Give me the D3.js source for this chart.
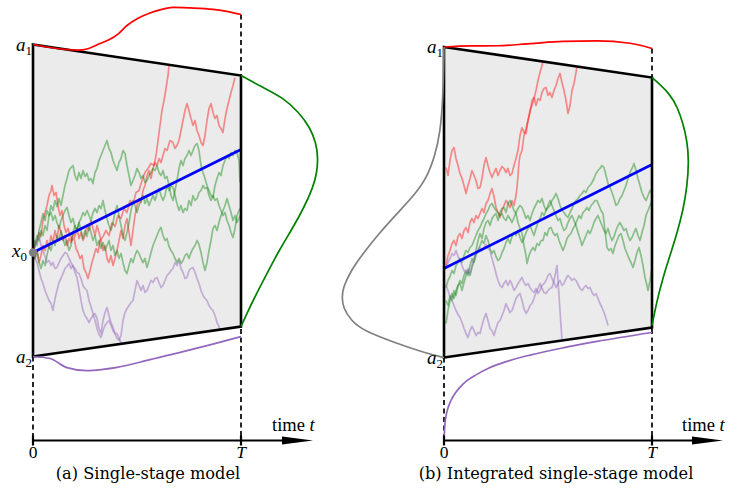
<!DOCTYPE html>
<html><head><meta charset="utf-8">
<script src="https://cdn.jsdelivr.net/npm/d3@7"></script>
<style>body{margin:0;background:#fff} svg{display:block}</style>
</head><body>
<script>
// ---------- DATA (time in steps, T = 208; level = height above time axis) ----------
const T = 208;
const timeTicks = ["0", "T"];
const captions = ["(a) Single-stage model", "(b) Integrated single-stage model"];

const upperA = [396, 365], lowerA = [84, 114], driftA = [188, 291], x0A = 188;
const upperB = [393.5, 363], lowerB = [83, 113], driftB = [172, 276];

// panel (a) sample paths [step, level]
const redA1 = [[0,188],[2,195],[4,200],[6,208],[8,204],[10,220],[12,228],[14,235],[16,245],[18,250],[19,255],[21,245],[23,248],[25,235],[27,225],[29,230],[31,215],[33,208],[35,212],[37,205],[39,200],[41,203],[43,192],[45,188],[47,182],[49,185],[51,172],[53,168],[55,162],[57,170],[59,178],[61,185],[63,192],[65,188],[67,200],[70,204],[73,210],[76,205],[79,218],[82,214],[85,225],[88,222],[91,232],[94,228],[97,240],[100,236],[103,248],[106,250],[109,260],[112,268],[115,272],[118,277],[121,275],[123,285],[125,300],[127,315],[129,330],[131,340],[133,352],[135,365],[136,375]];
const redA2 = [[0,188],[2,182],[4,190],[6,178],[8,185],[10,195],[12,190],[14,200],[16,192],[18,205],[20,198],[22,210],[24,202],[26,215],[28,208],[30,200],[32,205],[34,195],[36,202],[38,198],[40,208],[42,204],[44,212],[46,202],[48,208],[50,200],[52,205],[54,215],[56,210],[58,220],[60,212],[62,205],[64,215],[66,208],[68,200],[70,190],[72,195],[74,182],[76,178],[78,185],[80,175],[82,182],[84,190],[86,200],[88,210],[90,202],[92,215],[94,222],[96,208],[98,195],[100,210],[102,225],[104,235],[106,242],[108,238],[110,250],[112,255],[114,265],[116,270],[118,262],[120,272],[122,278],[124,275],[126,282],[128,278],[130,285],[132,292],[134,290],[137,300],[140,298],[142,292],[144,295],[146,300],[148,310],[150,320],[152,330],[154,337],[156,330],[158,322],[160,315],[162,320],[164,310],[166,305],[168,298],[170,295],[172,305],[174,320],[176,332],[178,337],[180,328],[182,322],[184,325],[186,315],[188,312],[190,308],[192,322],[194,332],[196,340],[198,348],[200,355],[202,363]];
const greenA1 = [[0,188],[2,200],[4,195],[6,210],[8,218],[10,227],[12,220],[14,230],[16,225],[18,235],[20,230],[22,240],[24,234],[26,242],[28,235],[30,245],[32,255],[34,262],[36,270],[38,273],[40,275],[42,265],[44,260],[46,268],[48,262],[50,270],[52,264],[54,267],[56,260],[58,262],[60,257],[62,268],[64,272],[66,280],[68,285],[70,290],[72,295],[74,300],[76,292],[78,288],[80,280],[82,275],[84,270],[86,278],[88,282],[90,290],[92,287],[94,275],[96,265],[98,255],[100,260],[102,265],[104,272],[106,268],[108,262],[110,265],[112,258],[114,260],[116,265],[118,268],[120,272],[122,270],[124,275],[126,268],[128,265],[130,270],[132,262],[134,264],[136,255],[138,245],[140,240],[142,250],[144,260],[146,272],[148,280],[150,275],[152,282],[154,285],[156,290],[158,285],[160,290],[162,295],[164,297],[166,290],[168,275],[170,268],[172,262],[174,255],[176,250],[178,245],[180,243],[182,255],[184,262],[186,268],[188,265],[190,275],[192,280],[194,285],[196,282],[198,288],[200,285],[202,290],[204,288],[206,280],[207,258]];
const greenA2 = [[0,188],[2,195],[4,205],[6,200],[8,210],[10,205],[12,215],[14,210],[16,225],[18,228],[20,220],[22,225],[24,218],[26,212],[28,220],[30,225],[32,230],[34,233],[36,225],[38,218],[40,222],[42,214],[44,210],[46,218],[48,222],[50,228],[52,225],[54,230],[56,225],[58,220],[60,228],[62,232],[64,228],[66,235],[68,232],[70,240],[72,230],[74,222],[76,215],[78,210],[80,218],[82,228],[84,235],[86,225],[88,215],[90,205],[92,200],[94,208],[96,218],[98,230],[100,240],[102,235],[104,228],[106,235],[108,240],[110,245],[112,237],[114,242],[116,235],[118,240],[120,245],[122,240],[124,247],[126,252],[128,245],[130,240],[132,245],[134,255],[136,250],[138,255],[140,253],[142,245],[144,237],[146,230],[148,235],[150,228],[152,232],[154,230],[156,240],[158,235],[160,245],[162,240],[164,242],[166,248],[168,250],[170,255],[172,252],[174,253],[176,245],[178,240],[180,245],[182,240],[184,242],[186,235],[188,230],[190,225],[192,228],[194,220],[196,215],[198,208],[200,203],[202,212],[204,225],[206,230],[208,233]];
const greenA3 = [[0,188],[2,182],[4,190],[6,178],[8,172],[10,180],[12,175],[14,185],[16,195],[18,190],[20,200],[22,195],[24,205],[26,200],[28,210],[30,202],[32,195],[34,200],[36,190],[38,195],[40,208],[42,215],[44,210],[46,218],[48,210],[50,202],[52,210],[54,204],[56,215],[58,208],[60,200],[62,205],[64,195],[66,200],[68,192],[70,198],[72,190],[74,195],[76,200],[78,190],[80,195],[82,185],[84,190],[86,182],[88,187],[90,178],[92,170],[94,167],[96,175],[98,182],[100,178],[102,185],[104,190],[106,187],[108,182],[110,178],[112,182],[114,173],[116,180],[118,188],[120,195],[122,200],[124,205],[126,210],[128,213],[130,205],[132,200],[134,202],[136,194],[138,190],[140,187],[142,182],[144,178],[146,182],[148,177],[150,180],[152,185],[154,187],[156,182],[158,188],[160,192],[162,195],[164,200],[166,196],[168,188],[170,178],[172,170],[174,178],[176,190],[178,200],[180,212],[182,215],[184,210],[186,218],[188,225],[190,230],[192,235],[194,242],[196,235],[198,228],[200,220],[202,225],[204,218],[206,222],[208,227]];
const purpleA1 = [[0,188],[2,182],[4,178],[6,170],[8,162],[10,157],[12,150],[14,145],[16,140],[18,137],[20,130],[22,142],[24,150],[26,158],[28,162],[30,167],[32,172],[34,174],[36,177],[38,172],[40,175],[42,168],[44,163],[46,152],[48,140],[50,130],[52,125],[54,122],[56,118],[58,122],[60,125],[62,127],[64,122],[66,112],[68,107],[70,120],[72,128],[74,133],[76,125],[78,118],[80,113],[82,107],[84,102],[86,100],[88,105],[90,120],[92,128],[94,132],[96,135],[98,138],[100,140],[102,150],[104,160],[106,155],[108,150],[110,155],[112,148],[114,150],[116,155],[118,160],[120,158],[122,162],[124,163],[126,158],[128,153],[130,155],[132,160],[134,165],[136,167],[138,170],[140,172],[142,178],[144,175],[146,180],[148,172],[150,168],[152,162],[154,163],[156,170],[158,172],[160,173],[162,168],[164,162],[166,157],[168,150],[170,145],[172,142],[174,140],[176,135],[178,132],[180,130],[182,125],[184,118],[186,114],[187,110]];
const purpleA2 = [[0,188],[2,195],[4,200],[6,204],[8,195],[10,190],[12,184],[14,178],[16,180],[18,175],[20,178],[22,172],[24,173],[26,178],[28,182],[30,185],[32,188],[34,187],[36,182],[38,178],[40,174],[42,172],[44,168],[46,167],[48,162],[50,155],[52,152],[54,150],[56,140],[58,134],[60,127],[62,120],[64,112],[66,106],[68,103],[70,110],[72,115],[74,118],[76,120],[78,115],[80,110],[82,107],[84,107],[86,102],[88,98],[89,97]];

// panel (b) sample paths [step, level]
const redB1 = [[2,273],[4,265],[6,280],[8,290],[10,293],[12,282],[14,275],[16,267],[18,262],[20,255],[22,247],[24,255],[26,262],[28,270],[30,265],[32,260],[34,252],[36,253],[38,262],[40,275],[42,283],[44,275],[46,268],[48,263],[50,268],[52,272],[54,265],[56,270],[58,274],[60,272],[62,268],[64,272],[66,265],[68,267],[70,275],[72,282],[74,290],[76,305],[78,313],[80,308],[82,307],[84,320],[86,328],[88,340],[90,343],[92,335],[94,342],[96,340],[98,348],[100,352],[102,353],[104,345],[106,348],[108,343],[110,350],[112,355],[114,362],[116,367],[118,358],[120,350],[122,340],[124,327],[126,335],[128,350],[130,357],[132,368],[133,374]];
const redB2 = [[2,175],[4,185],[6,190],[8,197],[10,200],[12,195],[14,204],[16,207],[18,202],[20,210],[22,213],[24,208],[26,218],[28,222],[30,218],[32,225],[34,222],[36,227],[38,232],[40,228],[42,237],[44,240],[46,247],[48,252],[50,244],[52,233],[54,228],[56,223],[58,230],[60,235],[62,240],[64,237],[66,233],[68,240],[70,235],[72,245],[73,253],[74,265],[75,278],[76,285],[78,290],[80,305],[82,312],[84,320],[86,330],[88,335],[90,342],[92,350],[94,360],[96,368],[98,375],[99,379]];
const greenB1 = [[2,117],[4,130],[6,140],[8,147],[10,142],[12,150],[14,155],[16,157],[18,150],[20,158],[22,165],[24,170],[26,165],[28,173],[30,180],[32,190],[34,200],[36,207],[38,202],[40,212],[42,218],[44,220],[46,215],[48,222],[50,225],[52,227],[54,220],[56,228],[58,232],[60,233],[62,228],[64,237],[66,240],[68,235],[70,230],[72,227],[74,218],[76,212],[78,207],[80,195],[82,185],[83,177],[85,185],[87,190],[89,193],[91,190],[93,197],[95,195],[97,200],[99,200],[101,208],[103,205],[105,212],[107,213],[109,208],[111,205],[113,207],[115,200],[117,195],[119,190],[121,195],[123,202],[125,205],[127,207],[129,212],[131,215],[133,220],[135,225],[137,222],[139,228],[141,230],[143,233],[145,230],[147,235],[149,237],[151,240],[153,240],[155,235],[157,230],[159,227],[161,210],[163,193],[165,190],[167,192],[169,187],[171,195],[173,200],[175,205],[177,207],[179,200],[181,192],[183,187],[185,182],[187,178],[189,173],[191,180],[193,188],[195,193],[197,185],[199,175],[201,163],[203,155],[204,150],[206,160],[208,173]];
const greenB2 = [[2,153],[4,160],[6,164],[8,170],[10,167],[12,175],[14,178],[16,182],[18,178],[20,185],[22,190],[24,188],[26,193],[28,195],[30,200],[32,205],[34,210],[36,213],[38,218],[40,222],[42,227],[44,230],[46,235],[48,237],[50,233],[52,230],[54,228],[56,225],[58,227],[60,222],[62,220],[64,225],[66,222],[68,218],[70,223],[72,228],[74,232],[76,235],[78,233],[80,228],[82,222],[84,225],[86,220],[88,227],[90,232],[92,236],[94,240],[96,238],[98,242],[100,235],[102,230],[104,233],[106,235],[108,240],[110,243],[112,247],[114,242],[116,235],[118,230],[120,228],[122,225],[124,223],[126,228],[128,232],[130,237],[132,240],[134,242],[136,245],[138,247],[140,250],[142,248],[144,253],[146,255],[148,258],[150,262],[152,267],[154,270],[156,272],[158,275],[160,273],[162,265],[164,257],[166,253],[168,248],[170,242],[172,235],[174,237],[176,242],[178,245],[180,250],[182,255],[184,262],[186,268],[188,272],[190,277],[192,270],[194,262],[196,255],[198,248],[200,243],[202,240],[204,245],[206,250],[208,247]];
const greenB3 = [[2,140],[4,135],[6,145],[8,140],[10,150],[12,145],[14,155],[16,160],[18,157],[20,165],[22,170],[24,165],[26,175],[28,182],[30,178],[32,185],[34,190],[36,195],[38,200],[40,197],[42,205],[44,200],[46,192],[48,187],[50,190],[52,184],[54,180],[56,182],[58,188],[60,192],[62,198],[64,202],[66,197],[68,204],[70,208],[72,205],[74,210],[76,203],[78,198],[80,202],[82,208],[84,212],[86,215],[88,210],[90,205],[92,212],[94,218],[96,222],[98,228],[100,225],[102,230],[104,235],[106,240],[108,235],[110,230],[112,225],[114,220],[116,222],[118,215],[120,210],[122,212],[124,218],[126,222],[128,225],[130,220],[132,215],[134,208],[136,202],[138,195],[140,200],[142,205],[144,210],[146,207],[148,212],[150,218],[152,222],[154,225],[156,220],[158,215],[160,210],[162,207],[164,212],[166,205],[168,200],[170,204],[172,210],[174,215],[176,218],[178,214],[180,210],[182,212],[184,205],[186,200],[188,203],[190,208],[192,212],[194,205],[196,200],[198,208],[200,215],[202,225],[204,230],[206,235],[208,240]];
const purpleB1 = [[2,155],[4,150],[6,144],[8,140],[10,135],[12,130],[14,126],[16,123],[18,118],[20,112],[22,107],[24,103],[26,110],[28,114],[30,110],[32,105],[34,108],[36,107],[38,115],[40,122],[42,127],[44,120],[46,112],[48,110],[50,105],[52,112],[54,118],[56,120],[58,125],[60,130],[62,137],[64,132],[66,128],[68,130],[70,136],[72,142],[74,145],[76,147],[78,140],[80,132],[82,127],[84,130],[86,135],[88,137],[90,142],[92,148],[94,152],[96,157],[98,152],[100,148],[102,147],[104,150],[106,152],[108,153],[110,160],[112,170],[113,175],[114,160],[115,145],[116,130],[117,115],[118,101]];
const purpleB2 = [[2,172],[4,178],[6,182],[8,187],[10,185],[12,190],[14,184],[16,180],[18,175],[20,170],[22,167],[24,172],[26,167],[28,175],[30,182],[32,187],[34,190],[36,193],[38,190],[40,193],[42,196],[44,192],[46,190],[48,182],[50,175],[52,167],[54,160],[56,155],[58,153],[60,157],[62,160],[64,155],[66,160],[68,156],[70,150],[72,153],[74,157],[76,160],[78,163],[80,158],[82,155],[84,157],[86,153],[88,150],[90,148],[92,152],[94,147],[96,150],[98,155],[100,157],[102,160],[104,165],[106,167],[108,162],[110,158],[112,153],[114,157],[116,160],[118,155],[120,157],[122,162],[124,165],[126,163],[128,160],[130,162],[132,160],[134,156],[136,152],[138,150],[140,153],[142,155],[144,152],[146,153],[148,148],[150,145],[152,147],[154,142],[156,137],[158,133],[160,128],[162,122],[164,115]];

// densities: [step or level, density]
const upperDensA = [[0,0],[35,0],[45,1],[55,4],[67,11],[76,16],[85,23],[94,33],[105,42],[117,49],[128,54],[140,58],[157,60],[180,62],[195,62],[208,61]];
const endDensA = [[365,0],[354,20],[343,42],[328,58],[313,69],[298,75],[283,77],[268,76],[253,72],[233,63],[213,52],[190,38],[167,26],[140,12],[125,5],[114,0]];
const lowerDensA = [[0,0],[17,4.5],[34,16],[54,22],[70,23],[84,23],[117,20],[167,15],[208,10]];
const upperDensB = [[0,0],[26,5],[53,9],[86,16],[119,23],[153,28.5],[186,31],[208,29]];
const endDensB = [[363,0],[347,18],[332,26],[317,31],[300,35],[280,37],[253,35],[230,31],[207,25],[185,18],[163,11],[140,5],[115,0]];
const startDensB = [[393.5,0],[340,1],[307,4],[285,9],[263,17],[245,30],[227,47],[207,65],[187,81],[170,93],[153,101],[143,102],[133,101],[120,93],[110,81],[97,47],[87,17],[83,0]];
const lowerDensB = [[0,83],[1,66],[2,59],[4,51],[7,44],[10,39],[15,33],[22,27],[32,22],[45,17],[63,13],[86,10],[119,7.5],[153,6],[208,5]];

// ---------- DRAWING ----------
const W = 737, H = 489;
const svg = d3.select("body").append("svg").attr("width", W).attr("height", H);
const y = d3.scaleLinear().domain([0, 440]).range([440.5, 0.5]);
const dens = d3.scaleLinear().domain([0, 100]).range([0, 100]);
const serif = "'Liberation Serif', 'DejaVu Serif', serif";
const capFont = "'DejaVu Serif', serif";

function lerp(arr, s) { return arr[0] + (arr[1] - arr[0]) * s / T; }

function panel(opts) {
  const x = d3.scaleLinear().domain([0, T]).range(opts.range);
  const g = svg.append("g");
  const U = opts.upper, L = opts.lower;
  const box = d3.line()([[x(0), y(U[0])], [x(T), y(U[1])], [x(T), y(L[1])], [x(0), y(L[0])]]) + "Z";
  g.append("path").attr("d", box).attr("fill", "#ebebeb");
  // sample paths
  const wl = d3.line().x(d => x(d[0])).y(d => y(d[1]));
  opts.walks.forEach(w => {
    w.data.forEach(p => g.append("path").attr("d", wl(p)).attr("fill", "none")
      .attr("stroke", w.color).attr("stroke-opacity", w.op).attr("stroke-width", 1.7)
      .attr("stroke-linejoin", "round"));
  });
  // drift
  g.append("line").attr("x1", x(0)).attr("y1", y(opts.drift[0])).attr("x2", x(T)).attr("y2", y(opts.drift[1]))
    .attr("stroke", "#0000ff").attr("stroke-width", 2.6);
  // dashed verticals
  const dash = (s, l0, l1) => g.append("line").attr("x1", x(s)).attr("x2", x(s)).attr("y1", y(l0)).attr("y2", y(l1))
    .attr("stroke", "#000").attr("stroke-width", 1.7).attr("stroke-dasharray", "5,3.5");
  dash(0, L[0], 0);
  dash(T, opts.topDash, 0);
  // boundaries
  g.append("path").attr("d", box)
    .attr("fill", "none").attr("stroke", "#000").attr("stroke-width", 2.6).attr("stroke-linejoin", "miter");
  // densities
  const cx = d3.curveMonotoneX, cy = d3.curveBasis;
  g.append("path").attr("d", d3.line().curve(cx).x(d => x(d[0])).y(d => y(lerp(U, d[0])) - dens(d[1]))(opts.upperDens))
    .attr("fill", "none").attr("stroke", "#ff0000").attr("stroke-width", 1.7);
  g.append("path").attr("d", d3.line().curve(cx).x(d => x(d[0])).y(d => y(lerp(L, d[0])) + dens(d[1]))(opts.lowerDens))
    .attr("fill", "none").attr("stroke", "#9467bd").attr("stroke-width", 1.7);
  g.append("path").attr("d", d3.line().curve(cy).x(d => x(T) + dens(d[1])).y(d => y(d[0]))(opts.endDens))
    .attr("fill", "none").attr("stroke", "#008000").attr("stroke-width", 1.7);
  if (opts.startDens) {
    g.append("path").attr("d", d3.line().curve(cy).x(d => x(0) - dens(d[1])).y(d => y(d[0]))(opts.startDens))
      .attr("fill", "none").attr("stroke", "#808080").attr("stroke-width", 1.7);
  }
  if (opts.x0 !== undefined) {
    g.append("circle").attr("cx", x(0)).attr("cy", y(opts.x0)).attr("r", 4.2).attr("fill", "#808080");
  }
  // time axis
  const axisEnd = opts.axisEnd;
  g.append("line").attr("x1", x(0)).attr("x2", x(axisEnd) - 20).attr("y1", y(0)).attr("y2", y(0))
    .attr("stroke", "#000").attr("stroke-width", 2.2);
  g.append("path").attr("d", d3.line()([[x(axisEnd) - 31, y(0) - 4], [x(axisEnd), y(0)], [x(axisEnd) - 31, y(0) + 4]]) + "Z")
    .attr("fill", "#000");
  [0, T].forEach((s, i) => {
    g.append("line").attr("x1", x(s)).attr("x2", x(s)).attr("y1", y(0) - 5).attr("y2", y(0) + 5)
      .attr("stroke", "#000").attr("stroke-width", 2.2);
    g.append("text").attr("x", x(s)).attr("y", y(0) + 17).attr("text-anchor", "middle")
      .attr("font-family", serif).attr("font-size", 17.5).attr("font-style", i ? "italic" : "normal")
      .text(timeTicks[i]);
  });
  const tt = g.append("text").attr("x", x(axisEnd) - 41).attr("y", y(0) - 10).attr("text-anchor", "start")
    .attr("font-family", serif).attr("font-size", 18.5);
  tt.append("tspan").text("time ");
  tt.append("tspan").attr("font-style", "italic").text("t");
  g.append("text").attr("x", opts.capX).attr("y", 479).attr("text-anchor", "middle")
    .attr("font-family", capFont).attr("font-size", 16.2).text(opts.caption);
  // boundary labels
  const lab = (txt, sub, px, py) => {
    const t = g.append("text").attr("x", px).attr("y", py).attr("text-anchor", "end")
      .attr("font-family", serif).attr("font-size", 19);
    t.append("tspan").attr("font-style", "italic").text(txt);
    t.append("tspan").attr("font-size", 13).attr("dy", 4).text(sub);
  };
  lab("a", "1", x(0) - 1, y(U[0]) + 6);
  lab("a", "2", x(0) - 1, y(L[0]) + 6);
  if (opts.x0 !== undefined) lab("x", "0", x(0) - 6, y(opts.x0) + 4);
}

panel({
  range: [33, 241], upper: upperA, lower: lowerA, drift: driftA, x0: x0A, topDash: 426,
  walks: [
    { color: "#ff0000", op: 0.42, data: [redA1, redA2] },
    { color: "#008000", op: 0.42, data: [greenA1, greenA2, greenA3] },
    { color: "#9467bd", op: 0.48, data: [purpleA1, purpleA2] }
  ],
  upperDens: upperDensA, lowerDens: lowerDensA, endDens: endDensA,
  axisEnd: 280, caption: captions[0], capX: 148
});
panel({
  range: [444, 652], upper: upperB, lower: lowerB, drift: driftB, topDash: 392,
  walks: [
    { color: "#ff0000", op: 0.42, data: [redB1, redB2] },
    { color: "#008000", op: 0.42, data: [greenB1, greenB2, greenB3] },
    { color: "#9467bd", op: 0.48, data: [purpleB1, purpleB2] }
  ],
  upperDens: upperDensB, lowerDens: lowerDensB, endDens: endDensB, startDens: startDensB,
  axisEnd: 279, caption: captions[1], capX: 556
});
</script>
</body></html>
